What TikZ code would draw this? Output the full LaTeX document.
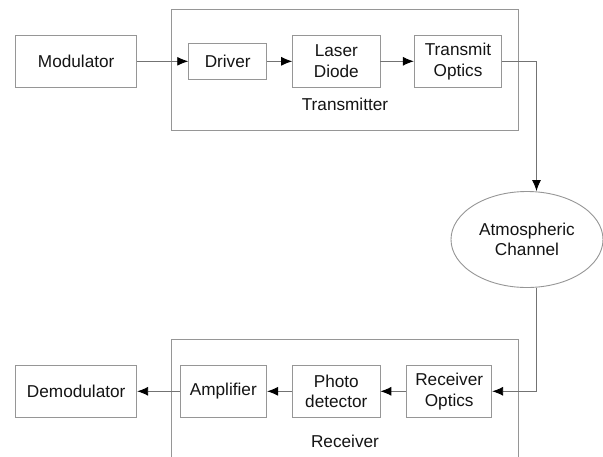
\documentclass[tikz,border=0pt]{standalone}
\usepackage{fontspec}
\setmainfont{Liberation Sans}
\usetikzlibrary{arrows.meta,shapes.geometric}

\definecolor{boxline}{RGB}{150,150,150}
\definecolor{wire}{RGB}{115,115,115}
\definecolor{ink}{RGB}{20,20,20}

\tikzset{
  block/.style={draw=boxline, line width=0.9pt, fill=white, inner sep=0pt,
                align=center, text=ink,
                font=\fontsize{17.2}{20.5}\selectfont},
  group/.style={draw=boxline, line width=0.9pt},
  grouplabel/.style={text=ink, inner sep=0pt, font=\fontsize{17.2}{20.5}\selectfont},
  link/.style={draw=wire, line width=0.9pt,
               -{Latex[length=11pt,width=9pt,fill=black,color=black]}},
}

\begin{document}
\begin{tikzpicture}[x=1pt,y=-1pt]
  \useasboundingbox[fill=white] (0,0) rectangle (603,456);

  % enclosing frames
  \draw[group] (171.7,9.3) rectangle (518.7,130.5);
  \draw[group] (171.7,339.3) rectangle (518.7,480);
  \node[grouplabel] (txlabel) at (345,104) {Transmitter};
  \node[grouplabel] (rxlabel) at (345,441.7) {Receiver};

  % transmit chain
  \node[block, minimum width=121pt, minimum height=52pt] (mod) at (76.2,61.3) {Modulator};
  \node[block, minimum width=78pt, minimum height=35.3pt] (drv) at (227.7,61.3) {Driver};
  \node[block, minimum width=87.3pt, minimum height=52pt] (ld) at (336.3,61.3) {Laser\\Diode};
  \node[block, minimum width=87.4pt, minimum height=52pt] (tro) at (458,61.3) {Transmit\\Optics};

  % channel
  \node[block, ellipse, minimum width=152pt, minimum height=96pt] (ch) at (527,239.5) {Atmospheric\\Channel};
  \coordinate (tap) at (536.5,239.5);

  % receive chain
  \node[block, minimum width=85pt, minimum height=52.7pt] (ro) at (449.2,391.3) {Receiver\\Optics};
  \node[block, minimum width=87.3pt, minimum height=52.7pt] (pd) at (336.3,391.3) {Photo\\detector};
  \node[block, minimum width=86.7pt, minimum height=52.7pt] (amp) at (223.3,391.3) {Amplifier};
  \node[block, minimum width=121pt, minimum height=52.7pt] (dem) at (76.2,391.3) {Demodulator};

  % connectors
  \draw[link] (mod) -- (drv);
  \draw[link] (drv) -- (ld);
  \draw[link] (ld) -- (tro);
  \draw[link] (tro.east) -| (tap |- ch.north);
  \draw[link] (tap |- ch.south) |- (ro.east);
  \draw[link] (ro) -- (pd);
  \draw[link] (pd) -- (amp);
  \draw[link] (amp) -- (dem);
\end{tikzpicture}
\end{document}
